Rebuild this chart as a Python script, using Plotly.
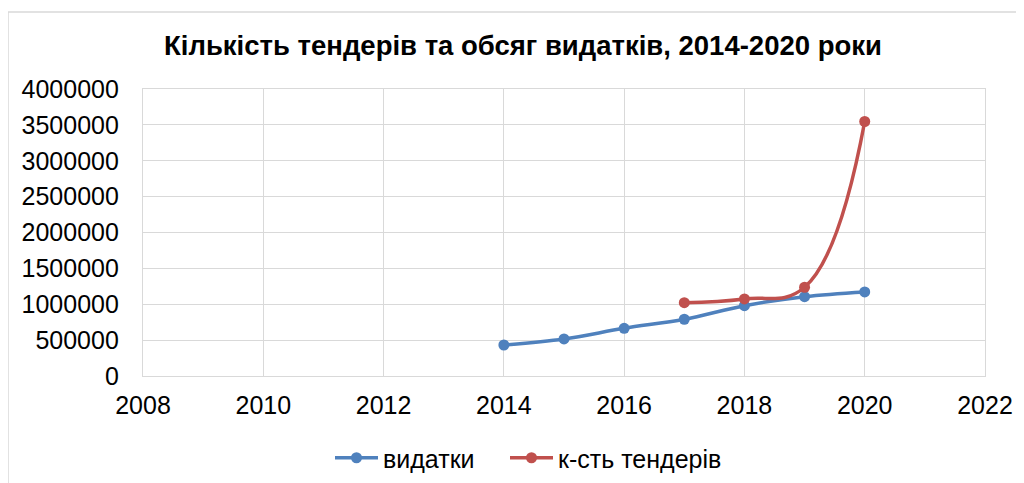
import plotly.graph_objects as go

years_spend = [2014, 2015, 2016, 2017, 2018, 2019, 2020]
spend = [432000, 516000, 665000, 791000, 980000, 1106000, 1172000]

years_tenders = [2017, 2018, 2019, 2020]
tenders = [1022000, 1074000, 1237000, 3547000]

x_ticks = [2008, 2010, 2012, 2014, 2016, 2018, 2020, 2022]
y_ticks = [0, 500000, 1000000, 1500000, 2000000, 2500000, 3000000, 3500000, 4000000]

title = "Кількість тендерів та обсяг видатків, 2014-2020 роки"

FONT = "Liberation Sans, Arial, sans-serif"
GRID = "#D9D9D9"

# page body has an 8px default margin; figure coordinates are offset by it
OFF = 8
W, H = 1024 - OFF, 483 - OFF
L, R, T, B = 143 - OFF, 1024 - 985, 89 - OFF, 483 - 376
pw, ph = W - L - R, H - T - B


def px(xref_pix):
    return (xref_pix - OFF - L) / pw


def py(yref_pix):
    return (H - B - (yref_pix - OFF)) / ph


fig = go.Figure()
fig.add_trace(go.Scatter(
    x=years_spend, y=spend, name="видатки", mode="lines+markers",
    line=dict(color="#4F81BD", width=3.5, shape="spline", smoothing=1),
    marker=dict(color="#4F81BD", size=11), legend="legend",
))
fig.add_trace(go.Scatter(
    x=years_tenders, y=tenders, name="к-сть тендерів", mode="lines+markers",
    line=dict(color="#C0504D", width=3.5, shape="spline", smoothing=1.2),
    marker=dict(color="#C0504D", size=11), legend="legend2",
))

legend_common = dict(orientation="h", xanchor="left", y=py(458), yanchor="middle",
                     font=dict(family=FONT, size=25, color="#000000"),
                     itemwidth=43, bgcolor="rgba(0,0,0,0)")

fig.update_layout(
    width=W, height=H,
    margin=dict(l=L, r=R, t=T, b=B, autoexpand=False),
    paper_bgcolor="white", plot_bgcolor="white",
    font=dict(family=FONT, size=25, color="#000000"),
    title=dict(text="<b>" + title + "</b>", x=(523 - OFF) / W, xanchor="center",
               y=1 - (45 - OFF) / H, yanchor="middle",
               font=dict(family=FONT, size=27.5, color="#000000")),
    showlegend=True,
    legend=dict(x=px(330), **legend_common),
    legend2=dict(x=px(505), **legend_common),
    xaxis=dict(range=[2008, 2022], tickvals=x_ticks, ticktext=[str(v) for v in x_ticks],
               showgrid=True, gridcolor=GRID, gridwidth=1.3,
               showline=True, linecolor=GRID, linewidth=1.3, mirror=True,
               zeroline=False, ticks="", ticklabelstandoff=7,
               tickfont=dict(family=FONT, size=25, color="#000000")),
    yaxis=dict(range=[0, 4000000], tickvals=y_ticks, ticktext=[str(v) for v in y_ticks],
               showgrid=True, gridcolor=GRID, gridwidth=1.3,
               showline=True, linecolor=GRID, linewidth=1.3, mirror=True,
               zeroline=False, ticks="", ticklabelstandoff=18,
               tickfont=dict(family=FONT, size=25, color="#000000")),
    shapes=[
        dict(type="line", xref="paper", yref="paper", x0=px(8), x1=px(8),
             y0=py(12), y1=py(490), line=dict(color=GRID, width=1.5)),
        dict(type="line", xref="paper", yref="paper", x0=px(8), x1=px(1030),
             y0=py(12), y1=py(12), line=dict(color=GRID, width=1.5)),
    ],
)

fig.write_html("out.html")
